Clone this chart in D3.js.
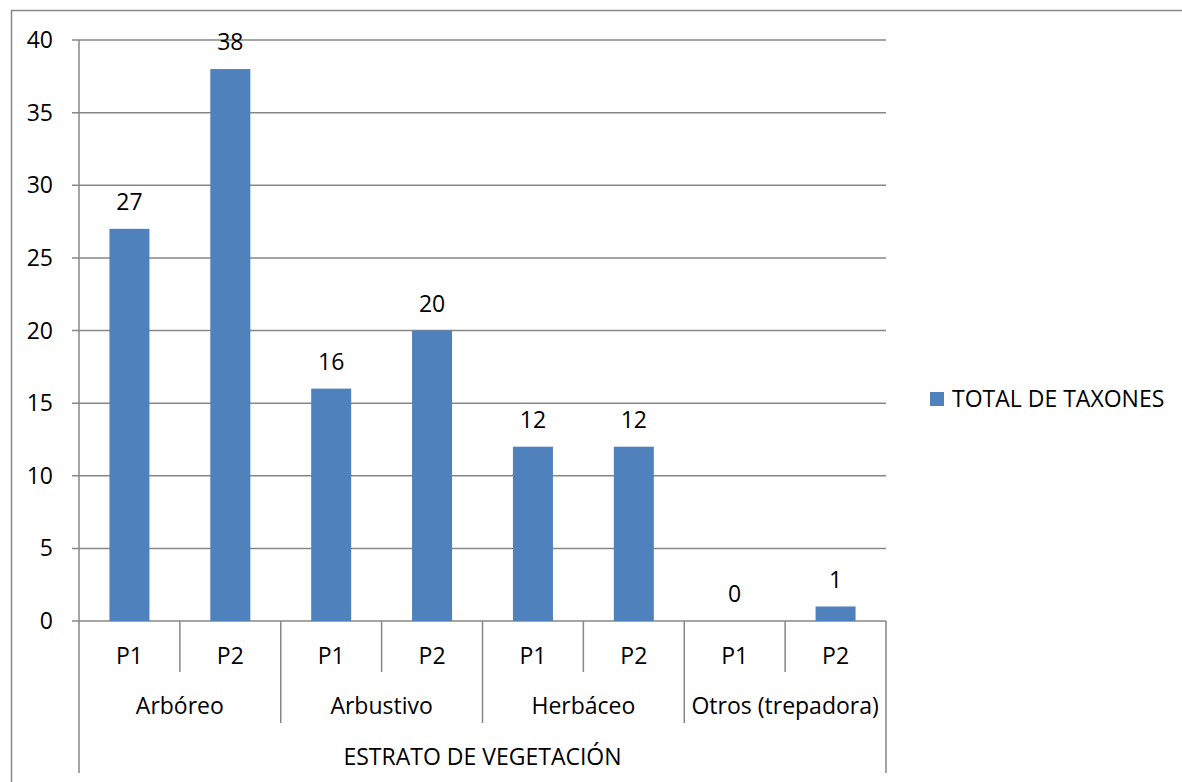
<!DOCTYPE html>
<html>
<head>
<meta charset="utf-8">
<script src="https://cdn.jsdelivr.net/npm/d3@7"></script>
<style>
  body { margin: 0; background: #fff; }
  svg text { font-family: "Open Sans", sans-serif; fill: #000; }
</style>
</head>
<body>
<div id="chart"></div>
<script>
// data
var groups = ["Arbóreo", "Arbustivo", "Herbáceo", "Otros (trepadora)"];
var periods = ["P1", "P2"];
var values = [27, 38, 16, 20, 12, 12, 0, 1];
var yTicks = [0, 5, 10, 15, 20, 25, 30, 35, 40];
var seriesName = "TOTAL DE TAXONES";
var axisTitle = "ESTRATO DE VEGETACIÓN";

var W = 1182, H = 782;
var margin = { top: 40, left: 79, right: 296, bottom: 161 };
var width = W - margin.left - margin.right,
  height = H - margin.top - margin.bottom;
var fs = "23px";

var svg = d3.select("#chart").append("svg")
  .attr("width", W).attr("height", H);

// outer frame (cropped on right/bottom in the original)
svg.append("path")
  .attr("d", "M11.5," + H + "V10.5H" + W)
  .attr("fill", "none").attr("stroke", "#878787").attr("stroke-width", 1.5);

var g = svg.append("g")
  .attr("transform", "translate(" + margin.left + "," + margin.top + ")");

var rows = [];
groups.forEach(function(grp, gi) {
  periods.forEach(function(p, pi) {
    rows.push({ key: gi + "-" + p, group: grp, period: p, value: values[gi * 2 + pi] });
  });
});

var x = d3.scaleBand().domain(rows.map(function(d) { return d.key; }))
  .range([0, width]).paddingInner(0).paddingOuter(0);
var y = d3.scaleLinear().domain([0, 40]).range([height, 0]);

// gridlines
g.append("g").selectAll("line").data(yTicks).enter().append("line")
  .attr("x1", -7).attr("x2", width)
  .attr("y1", function(d) { return y(d); }).attr("y2", function(d) { return y(d); })
  .attr("stroke", "#878787").attr("stroke-width", 1.5);

// y labels
g.append("g").selectAll("text").data(yTicks).enter().append("text")
  .attr("x", -26).attr("y", function(d) { return y(d); })
  .attr("dy", "0.35em").attr("text-anchor", "end")
  .style("font-size", fs)
  .text(function(d) { return d; });

// vertical axis line
g.append("line").attr("x1", 0).attr("x2", 0).attr("y1", 0).attr("y2", height + 152)
  .attr("stroke", "#878787").attr("stroke-width", 1.5);

// bars
var bw = 40;
g.append("g").selectAll("rect").data(rows).enter().append("rect")
  .attr("x", function(d) { return x(d.key) + x.bandwidth() / 2 - bw / 2; })
  .attr("y", function(d) { return y(d.value); })
  .attr("width", bw)
  .attr("height", function(d) { return height - y(d.value); })
  .attr("fill", "#4f81bd");

// data labels
g.append("g").selectAll("text").data(rows).enter().append("text")
  .attr("x", function(d) { return x(d.key) + x.bandwidth() / 2; })
  .attr("y", function(d) { return y(d.value) - 27; })
  .attr("dy", "0.35em").attr("text-anchor", "middle")
  .style("font-size", fs)
  .text(function(d) { return d.value; });

// category axis separators
var sep = g.append("g").attr("stroke", "#878787").attr("stroke-width", 1.5);
rows.forEach(function(d, i) {
  var xr = x(d.key) + x.bandwidth();
  var len = i === rows.length - 1 ? 152 : (i % 2 === 1 ? 102 : 51);
  sep.append("line").attr("x1", xr).attr("x2", xr).attr("y1", height).attr("y2", height + len);
});

// period labels
g.append("g").selectAll("text").data(rows).enter().append("text")
  .attr("x", function(d) { return x(d.key) + x.bandwidth() / 2; })
  .attr("y", height + 35).attr("dy", "0.35em").attr("text-anchor", "middle")
  .style("font-size", fs)
  .text(function(d) { return d.period; });

// group labels
g.append("g").selectAll("text").data(groups).enter().append("text")
  .attr("x", function(d, i) { return x(i + "-P1") + x.bandwidth(); })
  .attr("y", height + 85).attr("dy", "0.35em").attr("text-anchor", "middle")
  .style("font-size", fs)
  .text(function(d) { return d; });

// axis title
g.append("text").attr("x", width / 2).attr("y", height + 136)
  .attr("dy", "0.35em").attr("text-anchor", "middle")
  .style("font-size", fs).text(axisTitle);

// legend
var lg = svg.append("g").attr("transform", "translate(930,392)");
lg.append("rect").attr("width", 14).attr("height", 14).attr("fill", "#4f81bd");
lg.append("text").attr("x", 22).attr("y", 7).attr("dy", "0.35em")
  .style("font-size", fs).text(seriesName);
</script>
</body>
</html>
